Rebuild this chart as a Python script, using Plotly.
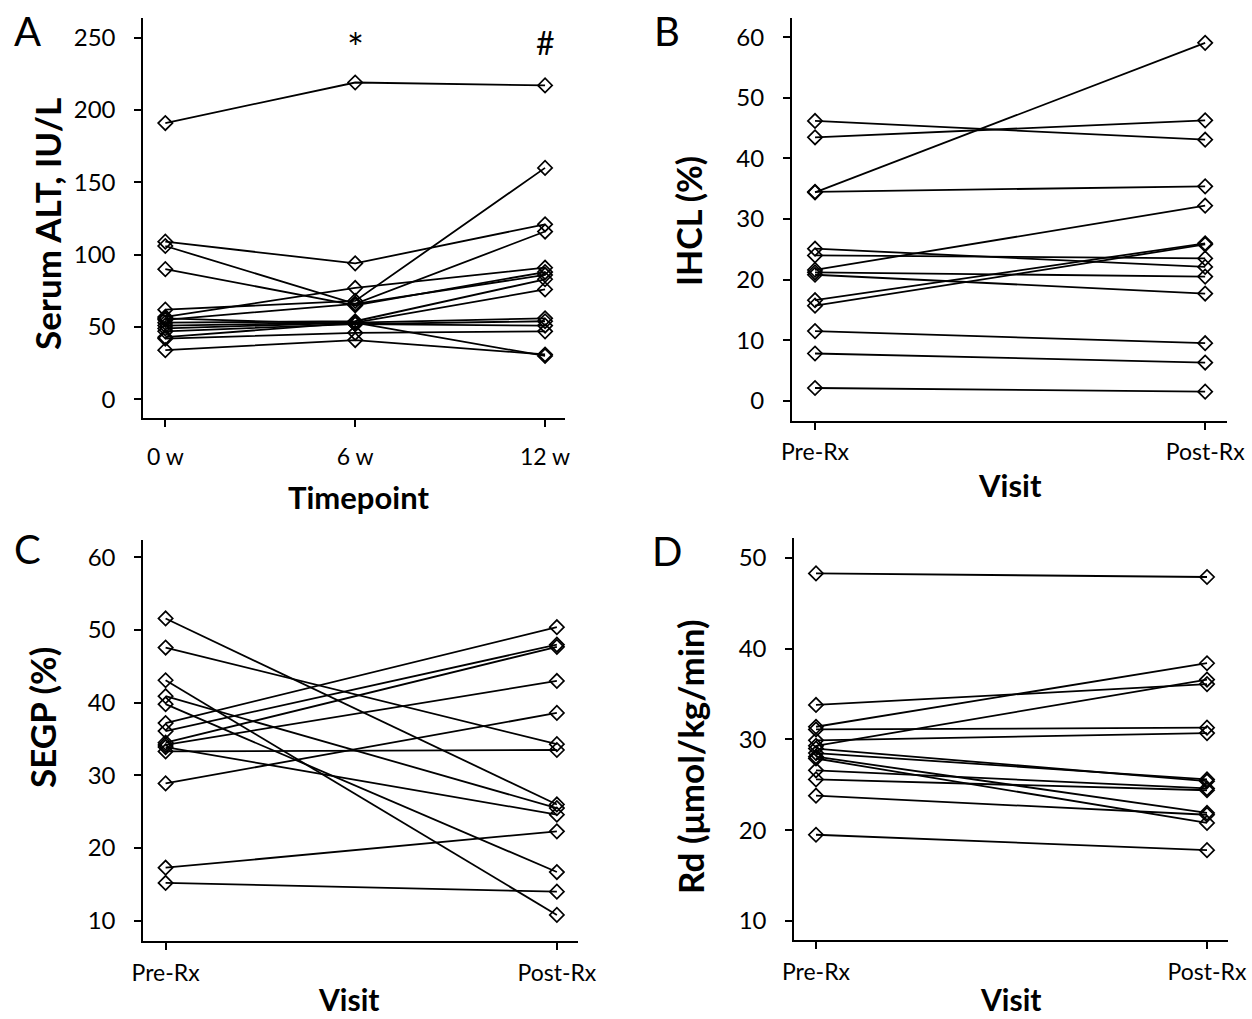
import plotly.graph_objects as go

# ---------------- data ----------------
alt_ticks = ["0 w", "6 w", "12 w"]
alt_0w  = [191, 109, 106, 90, 62, 57, 55, 53, 51, 49, 47, 43, 42, 34, 56]
alt_6w  = [219, 94, 66, 65, 68, 77, 66, 54, 53, 53, 52, 53, 46, 41, 52]
alt_12w = [217, 121, 116, 88, 160, 91, 86, 83, 76, 56, 54, 30, 47, 31, 51]

visit_ticks = ["Pre-Rx", "Post-Rx"]
ihcl_pre  = [46.2, 43.5, 34.4, 34.5, 25.1, 24.0, 21.6, 21.2, 20.8, 16.6, 15.7, 11.5, 7.8, 2.1]
ihcl_post = [43.1, 46.3, 59.1, 35.4, 22.1, 23.5, 32.2, 20.5, 17.7, 26.0, 25.8, 9.5, 6.3, 1.5]

segp_pre  = [37.2, 36.1, 34.5, 34.2, 28.9, 47.6, 33.3, 51.6, 40.9, 33.9, 17.3, 39.8, 43.1, 15.2]
segp_post = [50.4, 48.0, 47.7, 43.0, 38.6, 34.3, 33.5, 26.0, 25.5, 24.6, 22.3, 16.7, 10.8, 14.0]

rd_pre  = [48.3, 33.8, 31.4, 31.1, 29.9, 29.3, 29.0, 28.5, 28.1, 27.9, 26.6, 25.6, 23.8, 19.5]
rd_post = [47.9, 36.1, 38.4, 31.3, 30.7, 36.6, 25.4, 25.6, 21.9, 20.8, 24.6, 24.4, 21.7, 17.8]

# ---------------- figure ----------------
W, H = 1252, 1019
FONT = "Lato"
fig = go.Figure()

def add_subject(xs, ys, ax):
    fig.add_trace(go.Scatter(
        x=xs, y=ys, mode="lines+markers",
        xaxis="x" + ax, yaxis="y" + ax,
        line=dict(color="black", width=1.8),
        marker=dict(symbol="diamond-open", size=11, color="black",
                    line=dict(width=1.7, color="black")),
        showlegend=False, hoverinfo="y"))

for a, b, c in zip(alt_0w, alt_6w, alt_12w):
    add_subject([0, 1, 2], [a, b, c], "")
for a, b in zip(ihcl_pre, ihcl_post):
    add_subject([0, 1], [a, b], "2")
for a, b in zip(segp_pre, segp_post):
    add_subject([0, 1], [a, b], "3")
for a, b in zip(rd_pre, rd_post):
    add_subject([0, 1], [a, b], "4")

def px(x):
    return x / W

def py(y):
    return 1 - y / H

def xax(standoff):
    return dict(showline=True, linecolor="black", linewidth=2, ticks="outside",
                ticklen=7, tickwidth=2, tickcolor="black", showgrid=False,
                zeroline=False, automargin=False,
                tickfont=dict(family=FONT, size=23, color="black"),
                ticklabelstandoff=standoff)

common_y = dict(showline=True, linecolor="black", linewidth=2, ticks="outside",
                ticklen=7, tickwidth=2, tickcolor="black", showgrid=False,
                zeroline=False, automargin=False,
                tickfont=dict(family=FONT, size=24, color="black"),
                ticklabelstandoff=14)

fig.update_layout(
    template="none",
    width=W, height=H, margin=dict(l=0, r=0, t=0, b=0, pad=0), autosize=False,
    paper_bgcolor="white", plot_bgcolor="white",
    xaxis=dict(domain=[px(143.3), px(565)], range=[-0.116, 2.105], anchor="y",
               tickvals=[0, 1, 2], ticktext=alt_ticks, **xax(10)),
    yaxis=dict(domain=[py(418.3), py(18)], range=[-13.1, 263.6], anchor="x",
               tickvals=[0, 50, 100, 150, 200, 250], **common_y),
    xaxis2=dict(domain=[px(792), px(1227)], range=[-0.059, 1.056], anchor="y2",
                tickvals=[0, 1], ticktext=visit_ticks, **xax(3)),
    yaxis2=dict(domain=[py(420.7), py(18)], range=[-3.3, 63.2], anchor="x2",
                tickvals=[0, 10, 20, 30, 40, 50, 60], **common_y),
    xaxis3=dict(domain=[px(143.3), px(578)], range=[-0.057, 1.054], anchor="y3",
                tickvals=[0, 1], ticktext=visit_ticks, **xax(4)),
    yaxis3=dict(domain=[py(940.7), py(540)], range=[7.25, 62.4], anchor="x3",
                tickvals=[10, 20, 30, 40, 50, 60], **common_y),
    xaxis4=dict(domain=[px(794.3), px(1228)],
                range=[-(816 - 794.3) / 391.0, (1228 - 816) / 391.0], anchor="y4",
                tickvals=[0, 1], ticktext=visit_ticks, **xax(3)),
    yaxis4=dict(domain=[py(940), py(538)], range=[7.9, 52.2], anchor="x4",
                tickvals=[10, 20, 30, 40, 50], **common_y),
)

ann = []
def label(text, x, y, size, bold=False, angle=0):
    ann.append(dict(text=("<b>%s</b>" % text) if bold else text,
                    x=px(x), y=py(y), xref="paper", yref="paper",
                    showarrow=False, textangle=angle,
                    font=dict(family=FONT, size=size, color="black"),
                    xanchor="center", yanchor="middle"))

# panel letters
label("A", 27, 31, 40)
label("B", 667, 31, 40)
label("C", 27, 549, 40)
label("D", 667, 551, 40)
# axis titles
label("Timepoint", 358, 497, 31, bold=True)
label("Visit", 1010, 485, 31, bold=True)
label("Visit", 348, 999, 30, bold=True)
label("Visit", 1010, 999, 30, bold=True)
label("Serum ALT, IU/L", 47, 224, 35, bold=True, angle=-90)
label("IHCL (%)", 688, 221, 34, bold=True, angle=-90)
label("SEGP (%)", 42, 718, 35, bold=True, angle=-90)
label("Rd (μmol/kg/min)", 690, 757, 35, bold=True, angle=-90)
# significance marks
ann.append(dict(text="*", x=1, y=243, xref="x", yref="y", showarrow=False,
                font=dict(family=FONT, size=40, color="black")))
ann.append(dict(text="#", x=2, y=247, xref="x", yref="y", showarrow=False,
                font=dict(family=FONT, size=32, color="black")))
fig.update_layout(annotations=ann)

fig.write_html(
    "out.html",
    config={"displayModeBar": False},
    post_script="document.body.style.margin='0';document.body.style.padding='0';"
                "document.body.style.overflow='hidden';"
                "document.documentElement.style.overflow='hidden';",
)
